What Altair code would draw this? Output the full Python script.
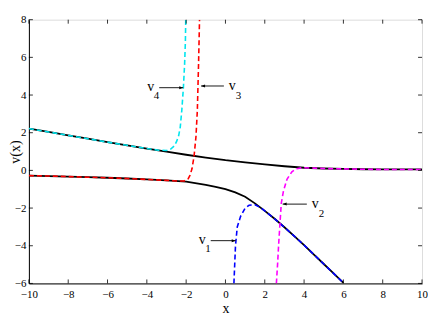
import altair as alt
import pandas as pd

# ---- data ----
upper_x = [-10, -9, -8, -7, -6, -5, -4, -3, -2, -1, 0, 1, 2, 3, 4, 5, 6, 7, 8, 9, 10]
upper_y = [2.22, 2.04, 1.86, 1.68, 1.50, 1.33, 1.16, 0.99, 0.83, 0.68, 0.54, 0.43, 0.32, 0.22, 0.14, 0.10, 0.08, 0.06, 0.05, 0.05, 0.05]

lower_x = [-10, -9, -8, -7, -6, -5, -4, -3, -2, -1, -0.5, 0, 0.5, 1, 1.5, 2, 2.5, 3, 3.5, 4, 4.5, 5, 5.5, 6]
lower_y = [-0.28, -0.30, -0.33, -0.36, -0.39, -0.43, -0.48, -0.53, -0.60, -0.77, -0.87, -1.0, -1.17, -1.40, -1.75, -2.15, -2.57, -3.02, -3.49, -3.97, -4.47, -4.97, -5.47, -5.97]

v4_x = [-10, -9, -8, -7, -6, -5, -4, -3.4, -3.0, -2.8, -2.6, -2.48, -2.38, -2.3, -2.22, -2.14, -2.08, -2.04, -2.02]
v4_y = [2.22, 2.04, 1.86, 1.68, 1.50, 1.33, 1.16, 1.07, 1.06, 1.12, 1.30, 1.55, 1.85, 2.3, 3.2, 4.4, 5.6, 6.8, 8.0]

v3_x = [-10, -9, -8, -7, -6, -5, -4, -3, -2.4, -2.1, -1.9, -1.8, -1.7, -1.6, -1.5, -1.43, -1.40, -1.37, -1.34, -1.32]
v3_y = [-0.28, -0.30, -0.33, -0.36, -0.39, -0.43, -0.48, -0.53, -0.57, -0.56, -0.45, -0.25, 0.1, 0.73, 1.8, 3.2, 4.4, 5.6, 7.0, 8.0]

v1_x = [0.43, 0.47, 0.51, 0.6, 0.77, 1.0, 1.2, 1.5, 1.8, 2, 2.5, 3, 3.5, 4, 4.5, 5, 5.5, 6]
v1_y = [-6.0, -5.0, -4.0, -3.0, -2.44, -2.0, -1.85, -1.83, -1.98, -2.15, -2.57, -3.02, -3.49, -3.97, -4.47, -4.97, -5.47, -5.97]

v2_x = [2.59, 2.65, 2.71, 2.78, 2.84, 2.95, 3.13, 3.38, 3.6, 3.9, 4.5, 5, 6, 7, 8, 9, 10]
v2_y = [-6.0, -5.0, -3.85, -2.7, -1.74, -1.1, -0.47, -0.07, 0.08, 0.14, 0.12, 0.10, 0.08, 0.06, 0.05, 0.05, 0.05]

x_ticks = [-10, -8, -6, -4, -2, 0, 2, 4, 6, 8, 10]
y_ticks = [-6, -4, -2, 0, 2, 4, 6, 8]

# annotations: left-side labels (v4, v1) and right-side labels (v3, v2)
left_sub = ["4", "1"]
left_tail_x = [-3.37, -0.75]
left_head_x = [-2.15, 0.52]
left_y = [4.39, -3.73]

right_sub = ["3", "2"]
right_tail_x = [-0.08, 4.14]
right_head_x = [-1.24, 2.91]
right_y = [4.48, -1.79]

series = ["v4", "v3", "v1", "v2"]
series_colors = ["#00e5ee", "#ff0000", "#0000ff", "#ff00ff"]

# ---- frames ----
black = pd.concat([
    pd.DataFrame({"x": upper_x, "y": upper_y, "s": "upper"}),
    pd.DataFrame({"x": lower_x, "y": lower_y, "s": "lower"}),
])
colored = pd.concat([
    pd.DataFrame({"x": v4_x, "y": v4_y, "s": "v4"}),
    pd.DataFrame({"x": v3_x, "y": v3_y, "s": "v3"}),
    pd.DataFrame({"x": v1_x, "y": v1_y, "s": "v1"}),
    pd.DataFrame({"x": v2_x, "y": v2_y, "s": "v2"}),
])
left_ann = pd.DataFrame({"sub": left_sub, "tx": left_tail_x, "hx": left_head_x, "y": left_y, "v": "v"})
right_ann = pd.DataFrame({"sub": right_sub, "tx": right_tail_x, "hx": right_head_x, "y": right_y, "v": "v"})
xt = pd.DataFrame({"t": x_ticks})
yt = pd.DataFrame({"t": y_ticks})

W, H = 395, 265
FONT = "Liberation Serif"

xs = alt.Scale(domain=[-10, 10], nice=False, zero=False)
ys = alt.Scale(domain=[-6, 8], nice=False, zero=False)

xaxis = alt.Axis(values=x_ticks, tickSize=0, grid=False, labelFont=FONT, labelFontSize=11,
                 labelColor="black", labelPadding=5, labelFlush=False, labelOverlap=False,
                 domainColor="black", title="x", titleFont=FONT, titleFontSize=14,
                 titleFontWeight="normal", titleColor="black", titleY=29, titleBaseline="alphabetic")
yaxis = alt.Axis(values=y_ticks, tickSize=0, grid=False, labelFont=FONT, labelFontSize=11,
                 labelColor="black", labelPadding=3, labelFlush=False, labelOverlap=False,
                 domainColor="black", title="v(x)", titleFont=FONT, titleFontSize=14,
                 titleFontWeight="normal", titleColor="black", titleX=-13, titleBaseline="middle")

base_black = alt.Chart(black).mark_line(color="black", strokeWidth=1.8, clip=True).encode(
    x=alt.X("x:Q", scale=xs, axis=xaxis),
    y=alt.Y("y:Q", scale=ys, axis=yaxis),
    detail="s:N",
)

dashed = alt.Chart(colored).mark_line(strokeWidth=1.6, strokeDash=[5, 3], clip=True).encode(
    x=alt.X("x:Q", scale=xs, axis=xaxis),
    y=alt.Y("y:Q", scale=ys, axis=yaxis),
    color=alt.Color("s:N", scale=alt.Scale(domain=series, range=series_colors), legend=None),
)

# inward ticks
tick_b = alt.Chart(xt).mark_rule(color="black", strokeWidth=0.8).encode(
    x=alt.X("t:Q", scale=xs, axis=xaxis), y=alt.value(H), y2=alt.value(H - 4))
tick_t = alt.Chart(xt).mark_rule(color="black", strokeWidth=0.8).encode(
    x=alt.X("t:Q", scale=xs, axis=xaxis), y=alt.value(0), y2=alt.value(4))
tick_l = alt.Chart(yt).mark_rule(color="black", strokeWidth=0.8).encode(
    y=alt.Y("t:Q", scale=ys, axis=yaxis), x=alt.value(0), x2=alt.value(4))
tick_r = alt.Chart(yt).mark_rule(color="black", strokeWidth=0.8).encode(
    y=alt.Y("t:Q", scale=ys, axis=yaxis), x=alt.value(W), x2=alt.value(W - 4))

# arrows
left_rule = alt.Chart(left_ann).mark_rule(color="black", strokeWidth=0.9).encode(
    x=alt.X("tx:Q", scale=xs, axis=xaxis), x2="hx:Q", y=alt.Y("y:Q", scale=ys, axis=yaxis))
right_rule = alt.Chart(right_ann).mark_rule(color="black", strokeWidth=0.9).encode(
    x=alt.X("tx:Q", scale=xs, axis=xaxis), x2="hx:Q", y=alt.Y("y:Q", scale=ys, axis=yaxis))
left_head = alt.Chart(left_ann).mark_point(shape="M 0 0 L -2 -0.75 L -2 0.75 Z", filled=True,
                                           color="black", size=16, opacity=1).encode(
    x=alt.X("hx:Q", scale=xs, axis=xaxis), y=alt.Y("y:Q", scale=ys, axis=yaxis))
right_head = alt.Chart(right_ann).mark_point(shape="M 0 0 L 2 -0.75 L 2 0.75 Z", filled=True,
                                             color="black", size=16, opacity=1).encode(
    x=alt.X("hx:Q", scale=xs, axis=xaxis), y=alt.Y("y:Q", scale=ys, axis=yaxis))

left_v = alt.Chart(left_ann).mark_text(font=FONT, fontSize=14, align="right", baseline="alphabetic",
                                       dx=-5, dy=3, color="black").encode(
    x=alt.X("tx:Q", scale=xs, axis=xaxis), y=alt.Y("y:Q", scale=ys, axis=yaxis), text="v:N")
left_s = alt.Chart(left_ann).mark_text(font=FONT, fontSize=11, align="right", baseline="alphabetic",
                                       dx=0, dy=11, color="black").encode(
    x=alt.X("tx:Q", scale=xs, axis=xaxis), y=alt.Y("y:Q", scale=ys, axis=yaxis), text="sub:N")
right_v = alt.Chart(right_ann).mark_text(font=FONT, fontSize=14, align="left", baseline="alphabetic",
                                         dx=5, dy=4, color="black").encode(
    x=alt.X("tx:Q", scale=xs, axis=xaxis), y=alt.Y("y:Q", scale=ys, axis=yaxis), text="v:N")
right_s = alt.Chart(right_ann).mark_text(font=FONT, fontSize=11, align="left", baseline="alphabetic",
                                         dx=12, dy=13, color="black").encode(
    x=alt.X("tx:Q", scale=xs, axis=xaxis), y=alt.Y("y:Q", scale=ys, axis=yaxis), text="sub:N")

chart = alt.layer(
    base_black, dashed, tick_b, tick_t, tick_l, tick_r,
    left_rule, right_rule, left_head, right_head, left_v, left_s, right_v, right_s,
).properties(
    width=W, height=H,
    autosize=alt.AutoSizeParams(type="none"),
    padding={"left": 21, "top": 11, "right": 6, "bottom": 33},
).configure_view(stroke="black", strokeWidth=1).configure_axis(
    labelOverlap=False, labelFlush=False, labelBound=False
).configure(background="white")

chart.save("out.html", embed_options={"renderer": "svg", "actions": False})
